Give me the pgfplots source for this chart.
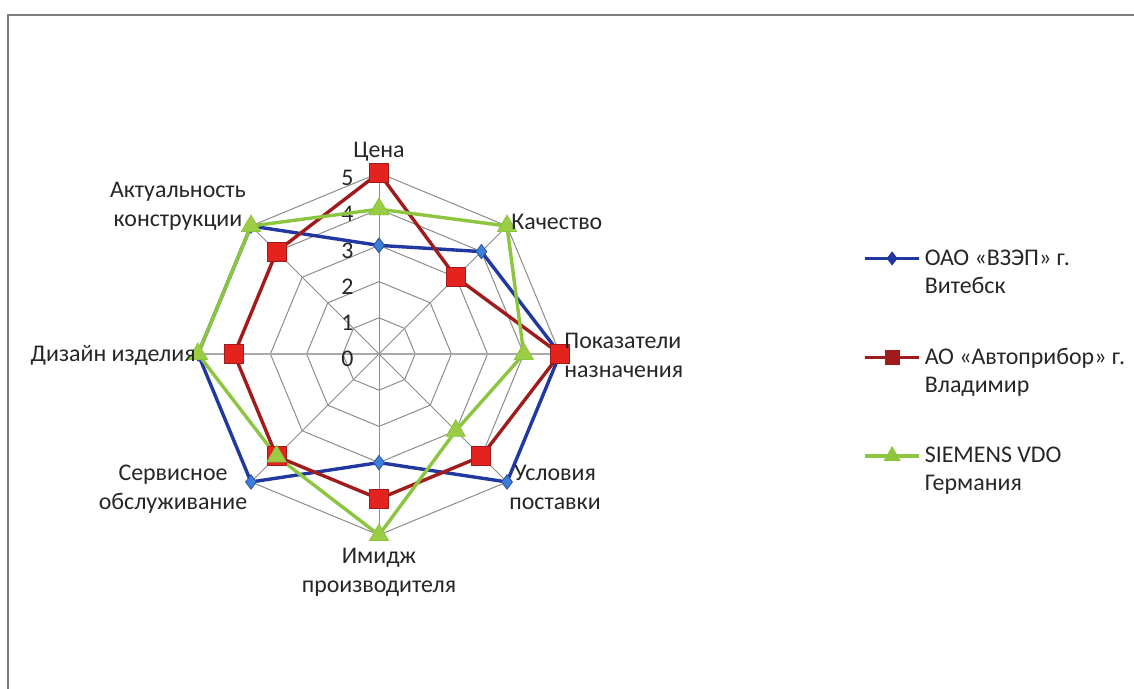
\documentclass[border=0pt]{standalone}
\usepackage{fontspec}
\setmainfont{Carlito}
\usepackage{pgfplots}
\pgfplotsset{compat=1.18}
\usepgfplotslibrary{polar}

\definecolor{gridgray}{HTML}{8C8C8C}
\definecolor{framegray}{HTML}{7F7F7F}
\definecolor{blueline}{HTML}{2038A0}
\definecolor{bluemark}{HTML}{3D7DDC}
\definecolor{redline}{HTML}{A01C1C}
\definecolor{redmark}{HTML}{E4221E}
\definecolor{greenline}{HTML}{8CC540}
\definecolor{greenmark}{HTML}{9ACD44}
\definecolor{txt}{HTML}{262626}

\pgfplotsset{
  radar grid/.style={gridgray, line width=0.5bp, forget plot, mark=none},
}

\begin{document}
\begin{tikzpicture}[font=\fontsize{12}{14.5}\selectfont, text=txt]
\path[use as bounding box] (0,0) rectangle (567bp,344.5bp);
\draw[framegray, line width=0.75bp] (4bp,0) -- (4bp,337bp) -- (567bp,337bp);

\begin{polaraxis}[
  at={(189.5bp,167.5bp)}, anchor=center,
  width=181bp, height=181bp, scale only axis,
  xmin=0, xmax=360, ymin=0, ymax=5,
  xtick=\empty, ytick=\empty,
  axis line style={draw=none},
  clip=false,
  legend cell align=left,
  legend image code/.code={\draw[mark repeat=2,mark phase=2,#1] plot coordinates {(0bp,7.25bp)(13.5bp,7.25bp)(27bp,7.25bp)};},
  legend image post style={mark options={scale=0.6}},
  legend style={draw=none, fill=none, at={(axis description cs:1.837,0.80)}, anchor=north west,
    row sep=22bp, inner sep=0pt, font=\fontsize{12}{14}\selectfont,
    cells={align=left, anchor=west, inner xsep=0.5bp}},
]
% octagonal grid
\addplot[radar grid] coordinates {(90,1)(45,1)(0,1)(315,1)(270,1)(225,1)(180,1)(135,1)(90,1)};
\addplot[radar grid] coordinates {(90,2)(45,2)(0,2)(315,2)(270,2)(225,2)(180,2)(135,2)(90,2)};
\addplot[radar grid] coordinates {(90,3)(45,3)(0,3)(315,3)(270,3)(225,3)(180,3)(135,3)(90,3)};
\addplot[radar grid] coordinates {(90,4)(45,4)(0,4)(315,4)(270,4)(225,4)(180,4)(135,4)(90,4)};
\addplot[radar grid] coordinates {(90,5)(45,5)(0,5)(315,5)(270,5)(225,5)(180,5)(135,5)(90,5)};
% spokes
\addplot[radar grid] coordinates {(90,0)(90,5)};
\addplot[radar grid] coordinates {(45,0)(45,5)};
\addplot[radar grid, line width=1.3bp, gridgray!75] coordinates {(0,0)(0,5)};
\addplot[radar grid] coordinates {(315,0)(315,5)};
\addplot[radar grid] coordinates {(270,0)(270,5)};
\addplot[radar grid] coordinates {(225,0)(225,5)};
\addplot[radar grid, line width=1.3bp, gridgray!75] coordinates {(180,0)(180,5)};
\addplot[radar grid] coordinates {(135,0)(135,5)};

% value labels on the top spoke
\pgfplotsinvokeforeach{0,...,5}{
  \node[anchor=east, xshift=-12.5bp, yshift=-2.5bp, inner sep=0pt] at (axis cs:90,#1) {#1};
}

% series
\addplot[blueline, line width=1.7bp, mark=diamond*, mark size=3.6bp,
  mark options={fill=bluemark, draw=bluemark!70!black, line width=0.4bp}]
  coordinates {(90,3)(45,4)(0,5)(315,5)(270,3)(225,5)(180,5)(135,5)(90,3)};
\addlegendentry{ОАО «ВЗЭП» г.\\Витебск}

\addplot[redline, line width=1.7bp, mark=square*, mark size=4.8bp,
  mark options={fill=redmark, draw=redline, line width=0.5bp}]
  coordinates {(90,5)(45,3)(0,5)(315,4)(270,4)(225,4)(180,4)(135,4)(90,5)};
\addlegendentry{АО «Автоприбор» г.\\Владимир}

\addplot[greenline, line width=1.7bp, mark=triangle*, mark size=5.5bp,
  mark options={fill=greenmark, draw=greenline, line width=0.4bp}]
  coordinates {(90,4)(45,5)(0,4)(315,3)(270,5)(225,4)(180,5)(135,5)(90,4)};
\addlegendentry{SIEMENS VDO\\Германия}
\end{polaraxis}

% category labels
\node[align=center] at (189.5bp,268.5bp) {Цена};
\node[anchor=west, inner sep=0pt] at (255.5bp,233.5bp) {Качество};
\node[anchor=west, align=left, inner sep=0pt] at (282bp,167bp) {Показатели\\назначения};
\node[align=center] at (277.5bp,101bp) {Условия\\поставки};
\node[align=center] at (189.5bp,58.5bp) {Имидж\\производителя};
\node[align=center] at (86.5bp,100bp) {Сервисное\\обслуживание};
\node[anchor=east, inner sep=0pt] at (98bp,167bp) {Дизайн изделия};
\node[align=center] at (89bp,241.5bp) {Актуальность\\конструкции};
\end{tikzpicture}
\end{document}
